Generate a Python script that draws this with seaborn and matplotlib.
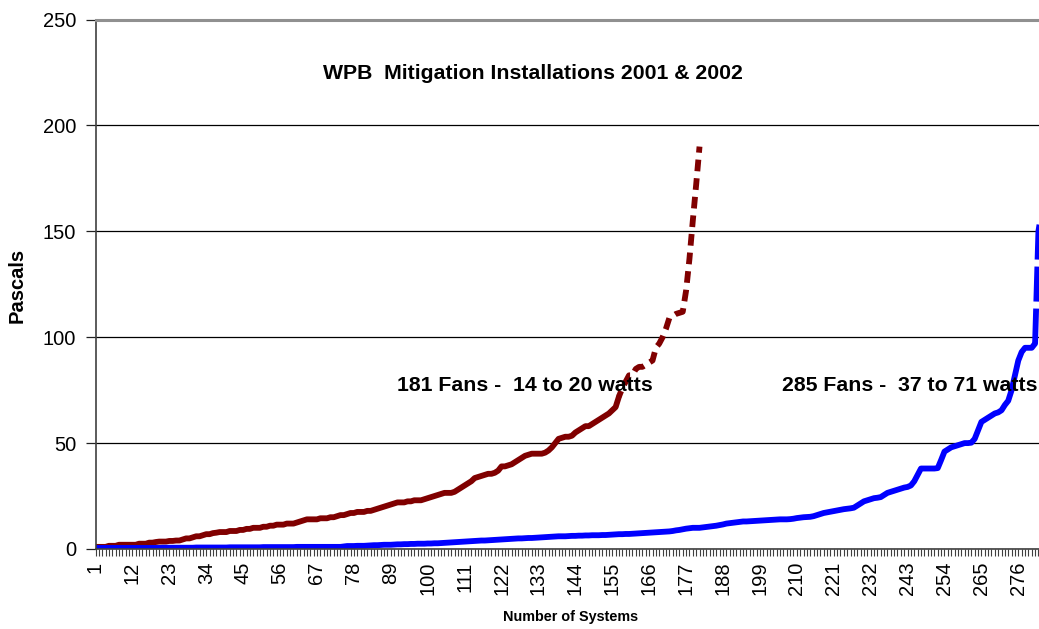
import numpy as np
import pandas as pd
import matplotlib.pyplot as plt
from matplotlib.ticker import FixedLocator, MultipleLocator
import seaborn as sns

# pressure readings (Pascals) for each installed system, sorted low to high
fans_181 = [
    1, 1, 1, 1, 1.5, 1.5, 1.5, 2, 2, 2,
    2, 2, 2, 2.5, 2.5, 2.5, 3, 3, 3.3, 3.5,
    3.5, 3.5, 3.8, 3.8, 4, 4, 4.5, 5, 5, 5.5,
    6, 6, 6.5, 7, 7, 7.5, 7.7, 8, 8, 8,
    8.5, 8.5, 8.5, 9, 9, 9.5, 9.5, 10, 10, 10,
    10.5, 10.5, 11, 11, 11.5, 11.5, 11.5, 12, 12, 12,
    12.5, 13, 13.5, 14, 14, 14, 14, 14.5, 14.5, 14.5,
    15, 15, 15.5, 16, 16, 16.5, 17, 17, 17.5, 17.5,
    17.5, 18, 18, 18.5, 19, 19.5, 20, 20.5, 21, 21.5,
    22, 22, 22, 22.5, 22.5, 23, 23, 23, 23.5, 24,
    24.5, 25, 25.5, 26, 26.5, 26.5, 26.5, 27, 28, 29,
    30, 31, 32, 33.5, 34, 34.5, 35, 35.5, 35.5, 36,
    37, 39, 39, 39.5, 40, 41, 42, 43, 44, 44.5,
    45, 45, 45, 45, 45.5, 46.5, 48, 50, 52, 52.5,
    53, 53, 53.5, 55, 56, 57, 58, 58, 59, 60,
    61, 62, 63, 64, 65.5, 67, 72, 76, 79, 82,
    82, 85, 86, 86, 87, 88, 89, 95, 97, 100,
    104, 109, 110, 111, 111.5, 112, 122, 137, 155, 172,
    190,
]

fans_285 = [
    0.5, 0.5, 0.5, 0.5, 0.5, 0.5, 0.5, 0.5, 0.5, 0.5,
    0.5, 0.5, 0.5, 0.5, 0.5, 0.5, 0.5, 0.5, 0.5, 0.5,
    0.6, 0.6, 0.6, 0.6, 0.6, 0.6, 0.6, 0.6, 0.6, 0.6,
    0.7, 0.7, 0.7, 0.7, 0.7, 0.7, 0.7, 0.7, 0.7, 0.7,
    0.8, 0.8, 0.8, 0.8, 0.8, 0.8, 0.8, 0.8, 0.8, 0.8,
    0.9, 0.9, 0.9, 0.9, 0.9, 0.9, 0.9, 0.9, 0.9, 0.9,
    1, 1, 1, 1, 1, 1, 1, 1, 1, 1,
    1, 1, 1, 1, 1.2, 1.4, 1.4, 1.4, 1.5, 1.5,
    1.5, 1.6, 1.7, 1.8, 1.8, 1.9, 2, 2, 2, 2.1,
    2.2, 2.2, 2.3, 2.3, 2.4, 2.4, 2.5, 2.5, 2.5, 2.6,
    2.6, 2.7, 2.7, 2.8, 2.9, 3, 3.1, 3.2, 3.3, 3.4,
    3.5, 3.6, 3.7, 3.8, 3.9, 4, 4, 4.1, 4.2, 4.3,
    4.4, 4.5, 4.6, 4.7, 4.8, 4.9, 5, 5, 5.1, 5.2,
    5.2, 5.3, 5.4, 5.5, 5.6, 5.7, 5.8, 5.9, 6, 6,
    6, 6.1, 6.2, 6.2, 6.3, 6.3, 6.4, 6.4, 6.5, 6.5,
    6.5, 6.6, 6.6, 6.7, 6.8, 6.9, 7, 7, 7.1, 7.1,
    7.2, 7.3, 7.4, 7.5, 7.6, 7.7, 7.8, 7.9, 8, 8.1,
    8.2, 8.3, 8.5, 8.8, 9, 9.3, 9.6, 9.8, 10, 10,
    10, 10.2, 10.4, 10.6, 10.8, 11, 11.3, 11.6, 12, 12.2,
    12.4, 12.6, 12.8, 13, 13, 13.1, 13.2, 13.3, 13.4, 13.5,
    13.6, 13.7, 13.8, 13.9, 14, 14, 14, 14.1, 14.3, 14.6,
    14.8, 15, 15.1, 15.2, 15.5, 16, 16.5, 17, 17.3, 17.6,
    17.9, 18.2, 18.5, 18.8, 19, 19.2, 19.5, 20.5, 21.5, 22.5,
    23, 23.5, 24, 24.2, 24.5, 25.5, 26.5, 27, 27.5, 28,
    28.5, 29, 29.3, 30, 32, 35, 38, 38, 38, 38,
    38, 38.2, 42, 46, 47, 48, 48.5, 49, 49.5, 50,
    50, 50.2, 52, 56, 60, 61, 62, 63, 64, 64.5,
    65.5, 68, 70, 75, 82, 89, 93, 95, 95, 95,
    97, 150, 160, 170, 180,
]

tick_labels = list(range(1, 286, 11))

sns.set_style("white")
plt.rcParams['font.family'] = ['Liberation Sans', 'DejaVu Sans']
plt.rcParams['text.color'] = 'black'
plt.rcParams['axes.labelcolor'] = 'black'
plt.rcParams['xtick.labelcolor'] = 'black'
plt.rcParams['ytick.labelcolor'] = 'black'

df_a = pd.DataFrame({"system": np.arange(1, len(fans_181) + 1), "pa": fans_181})
df_b = pd.DataFrame({"system": np.arange(1, len(fans_285) + 1), "pa": fans_285})

maroon = "#800000"
blue = "#0000ff"
lw = 4.2

fig = plt.figure(figsize=(10.39, 6.29), dpi=100)
ax = fig.add_axes([95.5 / 1039, 80 / 629, 953 / 1039, 529.5 / 629])

# Excel restarts the dash on every segment, so the flat part looks solid
cut_a = 157
sns.lineplot(data=df_a[df_a.system <= cut_a], x="system", y="pa", ax=ax,
             color=maroon, linewidth=lw)
sns.lineplot(data=df_a[df_a.system >= cut_a], x="system", y="pa", ax=ax,
             color=maroon, linewidth=lw, linestyle=(1.0, (2.0, 1.2)))
cut_b = 281
sns.lineplot(data=df_b[df_b.system <= cut_b], x="system", y="pa", ax=ax,
             color=blue, linewidth=lw)
sns.lineplot(data=df_b[df_b.system >= cut_b], x="system", y="pa", ax=ax,
             color=blue, linewidth=lw, linestyle=(0, (6.0, 1.2)))

ax.set_xlim(1, 285)
ax.set_ylim(0, 250)

ax.yaxis.set_major_locator(MultipleLocator(50))
ax.yaxis.grid(True, color="black", linewidth=0.9)
ax.set_axisbelow(True)

ax.xaxis.set_major_locator(FixedLocator(tick_labels))
ax.set_xticklabels([str(t) for t in tick_labels], rotation=90)
ax.xaxis.set_minor_locator(FixedLocator(np.arange(1, 286)))
ax.tick_params(axis="x", which="both", direction="out", length=5, width=0.8,
               color="#404040", bottom=True, labelsize=14.5, pad=4)
ax.tick_params(axis="y", direction="out", length=7, width=0.9, color="#202020",
               left=True, labelsize=14.5, pad=7)

for side in ["left", "bottom"]:
    ax.spines[side].set_color("#404040")
    ax.spines[side].set_linewidth(1.2)
ax.spines["top"].set_color("#909090")
ax.spines["top"].set_linewidth(2.2)
ax.spines["right"].set_visible(False)

ax.set_xlabel("Number of Systems", fontsize=10.4, fontweight="bold")
ax.xaxis.set_label_coords(0.498, -0.115)
ax.set_ylabel("Pascals", fontsize=14.5, fontweight="bold")
ax.yaxis.set_label_coords(-0.072, 0.4986)

ax.text(131.3, 224.7, "WPB  Mitigation Installations 2001 & 2002",
        ha="center", va="center", fontsize=15.3, fontweight="bold")
ax.text(90.8, 77.4, "181 Fans -  14 to 20 watts", ha="left", va="center",
        fontsize=15.3, fontweight="bold")
ax.text(205.6, 77.4, "285 Fans -  37 to 71 watts", ha="left", va="center",
        fontsize=15.3, fontweight="bold")

fig.savefig("out.png", dpi=100)
